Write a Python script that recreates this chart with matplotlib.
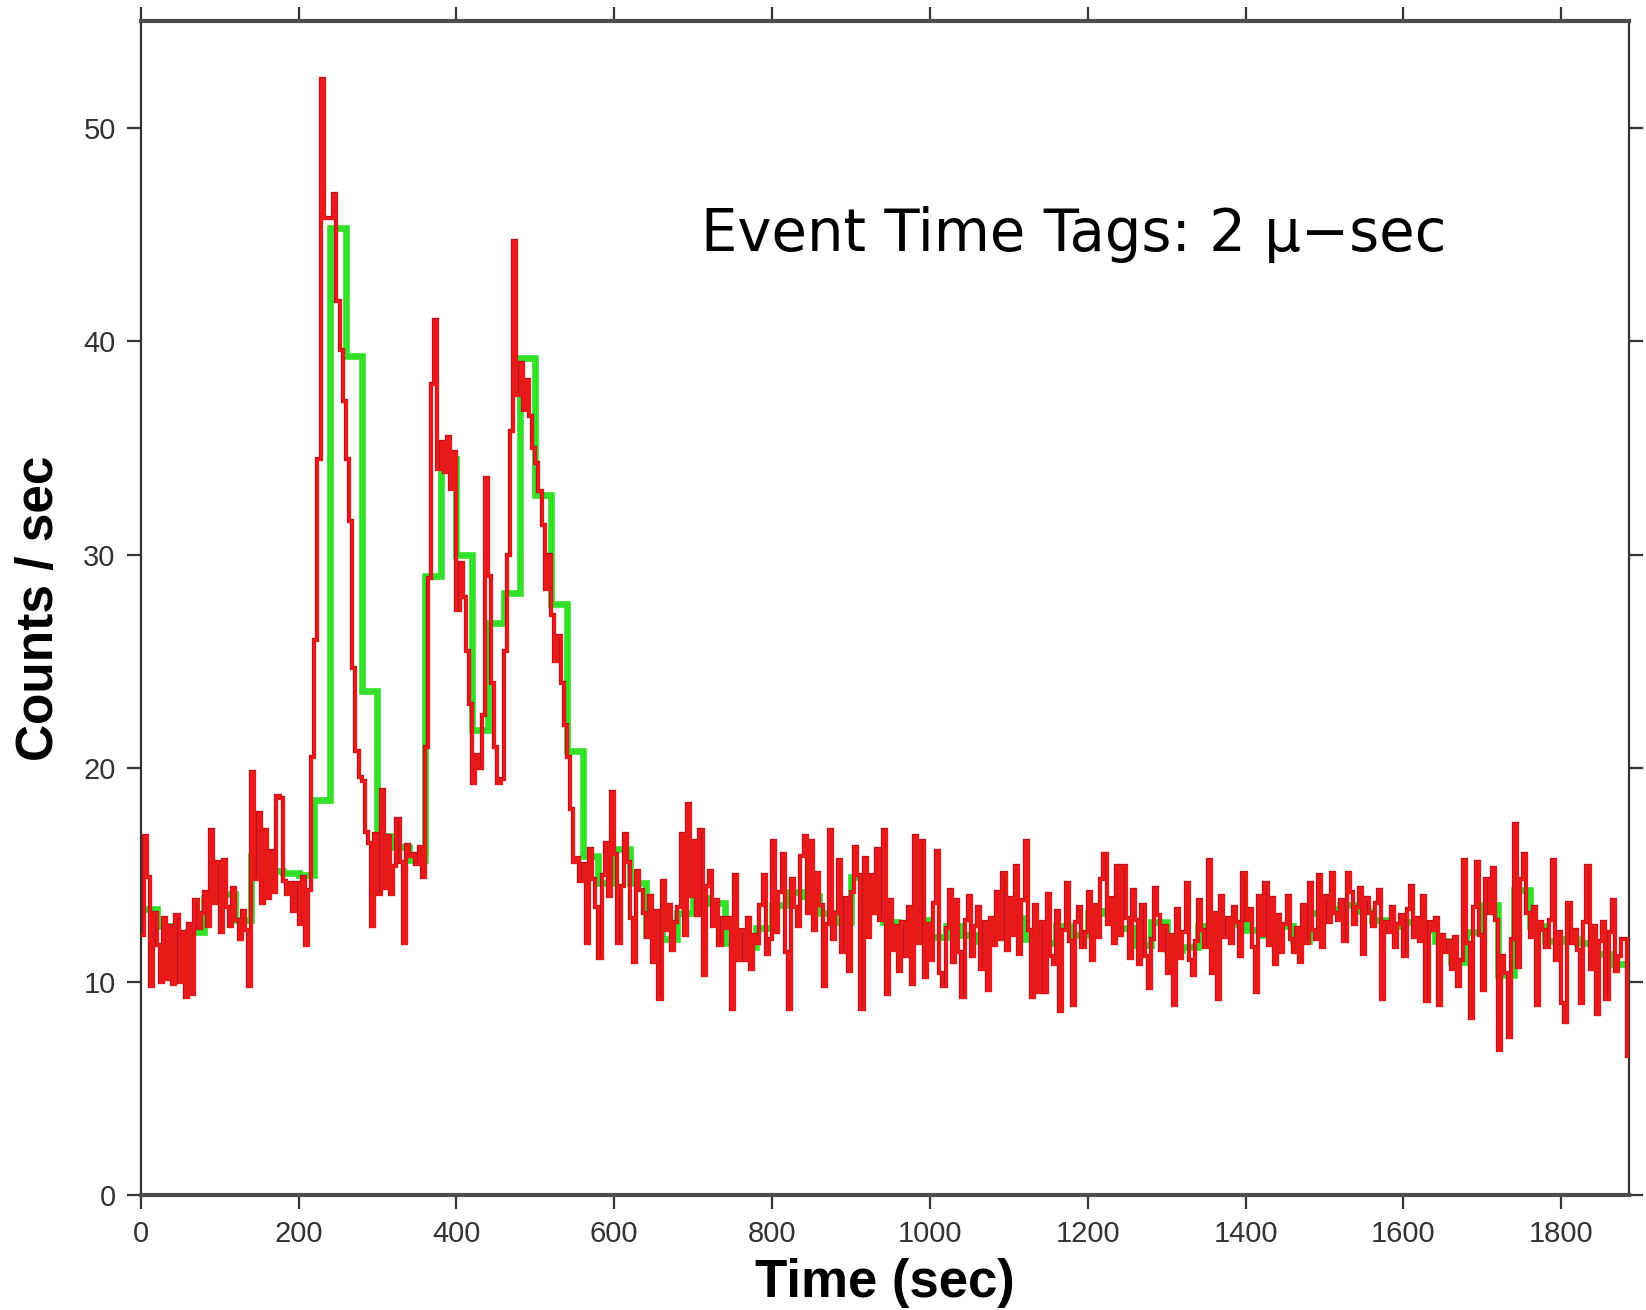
import numpy as np
import matplotlib
matplotlib.use("Agg")
import matplotlib.pyplot as plt
import matplotlib.patheffects as pe

# Bin widths of the two light curves (seconds)
fine_bin_sec = 4.0
coarse_bin_sec = 20.0

# Count rate in 4 s bins (counts / sec), starting at t = 0
fine_rate = [
    12.2, 16.8, 14.9, 9.8, 13.2,   11.7, 10.0, 13.0, 10.1, 12.6,
    9.9, 13.1, 10.0, 12.3, 9.3,    12.7, 9.4, 13.8, 12.5, 13.2,
    14.2, 12.6, 17.1, 13.7, 15.6,  12.3, 15.7, 13.5, 12.6, 14.4,
    12.9, 12.0, 13.3, 12.4, 9.8,   19.8, 14.8, 17.9, 13.7, 17.1,
    13.9, 16.1, 14.2, 18.7, 18.6,  14.7, 14.1, 14.6, 13.3, 14.6,
    12.7, 14.9, 11.7, 14.3, 20.5,  26.0, 34.5, 52.3, 45.8, 45.8,
    45.8, 46.9, 41.9, 39.6, 37.2,  34.5, 31.6, 24.7, 20.8, 19.6,
    19.4, 17.0, 16.5, 12.6, 16.9,  14.1, 19.0, 14.4, 16.8, 14.1,
    15.4, 17.6, 15.6, 11.8, 16.4,  15.9, 16.0, 15.5, 16.3, 14.9,
    21.0, 28.9, 38.0, 41.0, 34.0,  35.3, 33.9, 35.5, 33.1, 34.8,
    27.4, 29.6, 28.0, 25.5, 23.0,  19.3, 20.6, 20.0, 22.5, 33.6,
    29.0, 24.0, 21.0, 19.3, 19.5,  25.5, 30.0, 35.8, 44.7, 37.5,
    39.0, 36.8, 38.2, 36.5, 35.0,  34.3, 33.0, 31.4, 28.4, 30.0,
    27.2, 25.0, 26.2, 24.0, 22.0,  20.5, 18.1, 15.6, 15.8, 14.7,
    15.5, 11.8, 16.2, 14.8, 13.5,  11.1, 15.0, 16.5, 14.0, 18.9,
    16.0, 11.8, 14.5, 16.9, 15.6,  13.0, 10.9, 15.2, 14.3, 13.2,
    12.1, 14.0, 10.9, 13.3, 9.2,   14.7, 12.4, 13.6, 11.5, 12.8,
    13.5, 16.9, 12.2, 18.3, 14.0,  16.6, 13.1, 17.1, 10.3, 14.5,
    15.2, 12.6, 13.8, 11.7, 13.0,  12.5, 13.0, 8.7, 15.0, 11.0,
    12.4, 11.0, 13.0, 10.6, 12.2,  11.8, 13.6, 15.0, 11.3, 12.0,
    16.6, 12.3, 14.2, 16.0, 11.4,  8.7, 14.8, 13.5, 12.6, 15.9,
    16.8, 13.2, 16.6, 12.4, 15.1,  13.6, 9.8, 12.7, 17.1, 12.0,
    13.2, 15.7, 11.4, 13.9, 10.5,  14.2, 16.3, 15.0, 8.7, 15.8,
    12.1, 15.0, 13.2, 16.2, 12.9,  17.1, 9.4, 13.8, 11.5, 12.6,
    10.5, 12.8, 11.2, 13.5, 9.9,   16.8, 11.8, 16.6, 10.2, 12.7,
    11.0, 13.7, 16.1, 10.4, 9.8,   12.5, 14.3, 10.9, 13.8, 11.4,
    9.3, 12.9, 14.0, 11.2, 12.6,   13.5, 10.6, 12.8, 9.6, 13.0,
    11.7, 14.2, 12.0, 15.1, 11.5,  13.9, 12.2, 15.4, 11.3, 13.8,
    16.6, 12.4, 9.3, 13.6, 9.5,    12.8, 9.5, 14.1, 11.2, 10.8,
    13.3, 8.6, 12.4, 14.6, 11.9,   8.9, 12.8, 13.5, 11.6, 12.3,
    14.2, 11.0, 13.6, 12.1, 14.8,  16.0, 12.7, 13.9, 11.8, 15.4,
    12.2, 15.4, 13.0, 11.1, 14.3,  12.9, 10.8, 13.6, 11.2, 9.7,
    12.0, 14.4, 13.1, 11.5, 12.6,  10.4, 12.2, 8.9, 13.4, 11.1,
    12.3, 14.6, 11.0, 10.3, 11.9,  13.8, 12.4, 11.6, 15.7, 10.4,
    13.2, 9.2, 14.0, 12.1, 13.0,   11.8, 13.5, 12.8, 11.2, 15.1,
    12.9, 13.4, 11.6, 9.5, 14.0,   12.2, 14.6, 11.7, 13.9, 10.8,
    13.1, 11.4, 12.7, 14.0, 12.0,  11.4, 12.5, 10.9, 13.6, 11.8,
    14.6, 12.4, 12.0, 15.0, 11.6,  14.0, 12.8, 15.1, 13.2, 12.9,
    13.8, 11.9, 15.1, 14.2, 12.7,  13.5, 14.4, 11.3, 13.9, 13.2,
    12.6, 13.7, 14.3, 9.2, 12.8,   12.3, 13.5, 11.6, 12.7, 13.1,
    11.2, 13.4, 14.5, 12.1, 13.0,  11.9, 14.0, 9.1, 12.8, 12.4,
    13.0, 8.9, 12.2, 11.4, 11.9,   10.6, 12.1, 9.8, 11.0, 15.7,
    11.8, 8.3, 13.5, 15.6, 12.2,   9.6, 14.8, 13.2, 15.3, 12.9,
    6.8, 11.2, 10.4, 7.4, 12.0,    17.4, 10.7, 14.8, 16.0, 13.2,
    12.1, 13.5, 8.9, 12.8, 12.4,   11.6, 12.9, 15.7, 11.0, 12.3,
    9.0, 8.1, 13.7, 11.8, 12.4,    11.5, 9.0, 12.8, 15.4, 10.6,
    12.6, 8.5, 11.9, 12.8, 9.2,    12.3, 13.8, 10.5, 11.2, 12.0,
    12.0, 6.5,
]

# Count rate in 20 s bins (counts / sec), starting at t = 0
coarse_rate = [
    13.4, 12.6, 11.6, 12.3, 13.9, 14.1, 12.9, 15.9, 15.2, 15.1,
    15.0, 18.5, 45.3, 39.3, 23.6, 16.8, 16.3, 15.7, 29.0, 34.5,
    30.0, 21.8, 26.8, 28.2, 39.2, 32.8, 27.7, 20.8, 15.9, 14.6,
    16.2, 14.6, 12.2, 12.0, 13.2, 13.9, 13.7, 11.8, 11.6, 12.5,
    13.6, 14.2, 14.0, 13.2, 12.8, 14.9, 14.0, 12.8, 12.4, 12.9,
    12.1, 12.6, 12.2, 11.9, 12.4, 13.0, 12.0, 11.8, 12.6, 12.2,
    13.2, 13.3, 12.5, 11.7, 12.8, 11.5, 11.6, 12.6, 12.9, 12.7,
    12.4, 12.2, 12.6, 11.9, 13.2, 13.4, 13.6, 13.3, 12.9, 12.6,
    12.8, 12.4, 11.9, 10.9, 12.3, 13.6, 10.3, 14.3, 12.6, 11.9,
    12.0, 11.8, 11.3, 10.8, 10.8,
]

x_ticks = [0, 200, 400, 600, 800, 1000, 1200, 1400, 1600, 1800]
y_ticks = [0, 10, 20, 30, 40, 50]
annotation = "Event Time Tags: 2 \u03bc\u2212sec"

plt.rcParams["font.family"] = ["Liberation Sans", "DejaVu Sans"]

fig = plt.figure(figsize=(16.46, 13.10), dpi=100)
ax = fig.add_axes([0.0855, 0.0878, 0.9042, 0.8960])

fine_edges = np.arange(len(fine_rate) + 1) * fine_bin_sec
coarse_edges = np.arange(len(coarse_rate) + 1) * coarse_bin_sec

ax.stairs(coarse_rate, coarse_edges, baseline=None, color="#33e02a",
          linewidth=4.8, zorder=2)
ax.stairs(fine_rate, fine_edges, baseline=None, color="#ee1a1a",
          linewidth=1.9, zorder=3,
          path_effects=[pe.Stroke(linewidth=3.1, foreground="#bf121c"),
                        pe.Normal()])

ax.set_xlim(0, 1886)
ax.set_ylim(0, 55)
ax.set_xticks(x_ticks)
ax.set_yticks(y_ticks)

ax.tick_params(axis="both", which="major", direction="out", length=10,
               width=1.6, color="#333333", labelsize=21,
               labelcolor="#333333", pad=8,
               top=True, right=True, labeltop=False, labelright=False)

for side in ("top", "bottom"):
    ax.spines[side].set_linewidth(3.0)
    ax.spines[side].set_color("#4d4d4d")
for side in ("left", "right"):
    ax.spines[side].set_linewidth(1.6)
    ax.spines[side].set_color("#333333")

ax.set_xlabel("Time (sec)", fontsize=38, fontweight="bold", labelpad=7)
ax.set_ylabel("Counts / sec", fontsize=37, fontweight="bold", labelpad=14)

ax.text(710, 44.25, annotation, fontsize=41.5, family=["DejaVu Sans"],
        ha="left", va="baseline", color="black")

fig.savefig("out.png", dpi=100, facecolor="white")
